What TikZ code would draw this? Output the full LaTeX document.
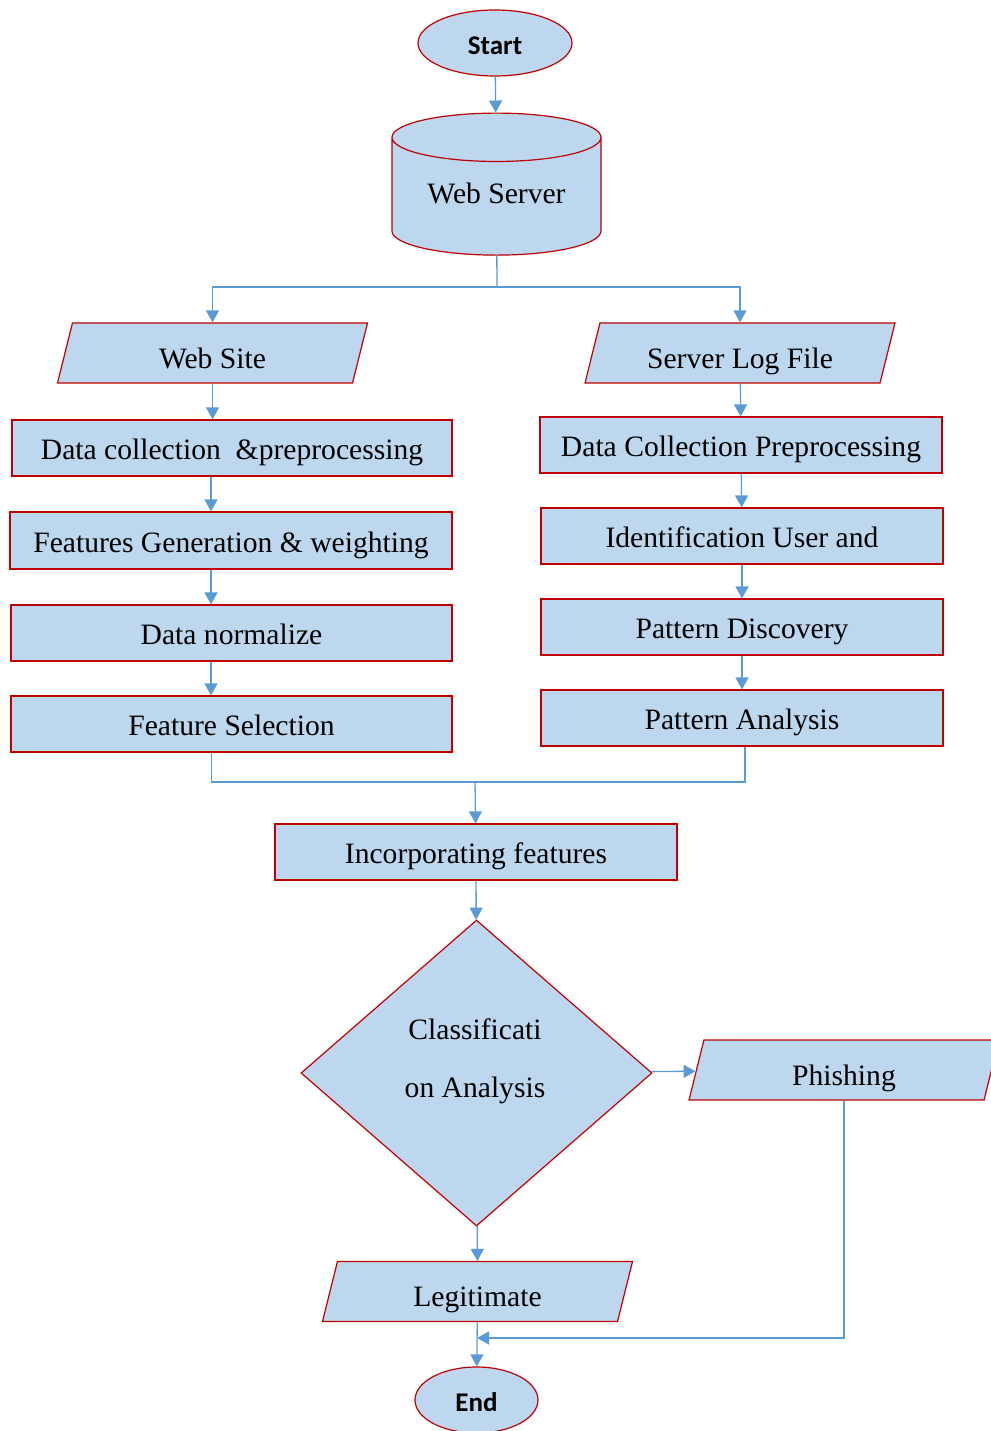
\documentclass[tikz,border=0pt]{standalone}
\usepackage{fontspec}
\setmainfont{Liberation Serif}
\newfontfamily\termfont{Carlito}
\usepackage{xcolor}
\usetikzlibrary{shapes.geometric, arrows.meta, positioning, calc}
\definecolor{boxfill}{HTML}{BDD7EE}
\definecolor{boxline}{HTML}{C00000}
\definecolor{arrline}{HTML}{5B9BD5}

\begin{document}
\begin{tikzpicture}[x=1pt, y=-1pt,
    box/.style={draw=boxline, fill=boxfill, line width=1.2pt, minimum height=56pt,
                inner sep=0pt, text height=24pt, text depth=1pt,
                font=\fontsize{29.6}{34}\selectfont},
    io/.style={box, trapezium, trapezium left angle=76, trapezium right angle=104,
               trapezium stretches body, minimum width=310pt, minimum height=0pt,
               text height=34pt, text depth=4pt, inner ysep=11pt, inner xsep=2pt},
    term/.style={box, ellipse, minimum height=66pt, text height=23pt, text depth=0pt,
                 font=\termfont\bfseries\fontsize{27}{32}\selectfont},
    arr/.style={-{Triangle[width=13pt,length=12pt]}, draw=arrline, line width=1.3pt},
    link/.style={draw=arrline, line width=1.3pt}
  ]
    \useasboundingbox (0,0) rectangle (990,1431);
    \node[term, minimum width=154pt] (start) at (495,43) {Start};
    \node[box, cylinder, shape border rotate=90, aspect=0.35, text height=20pt, text depth=6pt,
          minimum width=209pt, minimum height=142pt] (server) at (496.5,196.5) {Web Server};
    \node[io] (site) at (212.5,353) {Web Site};
    \node[io] (log)  at (740,353) {Server Log File};
    % left branch
    \node[box, minimum width=440pt] (dcl)  at (232,448)   {Data collection \ \&preprocessing};
    \node[box, minimum width=442pt, minimum height=57pt] (feat) at (231,540.5) {Features Generation \& weighting};
    \node[box, minimum width=441pt] (norm) at (231.5,633) {Data normalize};
    \node[box, minimum width=441pt] (fsel) at (231.5,724) {Feature Selection};
    % right branch
    \node[box, minimum width=402pt] (dcr)   at (741,445) {Data Collection Preprocessing};
    \node[box, minimum width=402pt] (ident) at (742,536) {Identification User and};
    \node[box, minimum width=402pt] (pdis)  at (742,627) {Pattern Discovery};
    \node[box, minimum width=402pt] (pana)  at (742,718) {Pattern Analysis};
    \node[box, minimum width=402pt] (inc)   at (476,852) {Incorporating features};
    \node[box, diamond, minimum width=351pt, minimum height=306pt, text height=0pt,
          text depth=0pt] (dia) at (476.5,1073) {};
    \node[align=center, font=\fontsize{29.6}{58}\selectfont] (diatext) at (475,1061)
      {Classificati\\on Analysis};
    \node[io] (phish)  at (844,1070)    {Phishing};
    \node[io] (legit)  at (477.5,1291.5) {Legitimate};
    \node[term, minimum width=123pt] (end) at (476.5,1400) {End};
    \coordinate (split) at (497,287);
    \coordinate (join)  at (475,782);
    \coordinate (merge) at (477,1338);
    \draw[arr] (start) -- (server);
    \draw[link] (server) -- (split);
    \draw[arr] (split) -| (site.north);
    \draw[arr] (split) -| (log.north);
    \draw[arr] (site.south) -- (site.south |- dcl.north);
    \draw[arr] ([xshift=-21pt]dcl.south) -- ([xshift=-20pt]feat.north);
    \draw[arr] ([xshift=-20pt]feat.south) -- ([xshift=-20.5pt]norm.north);
    \draw[arr] ([xshift=-20.5pt]norm.south) -- ([xshift=-20.5pt]fsel.north);
    \draw[arr] (log) -- (dcr);
    \draw[arr] (dcr) -- (ident);
    \draw[arr] (ident) -- (pdis);
    \draw[arr] (pdis) -- (pana);
    \draw[link] ([xshift=-20pt]fsel.south) |- (join);
    \draw[link] ([xshift=3pt]pana.south) |- (join);
    \draw[arr] (join) -- (inc);
    \draw[arr] (inc) -- (dia);
    \draw[arr] (dia) -- (phish);
    \draw[arr] (dia) -- (legit);
    \draw[arr] (legit) -- (end);
    \draw[arr] (phish.south) |- (merge);
\end{tikzpicture}
\end{document}
